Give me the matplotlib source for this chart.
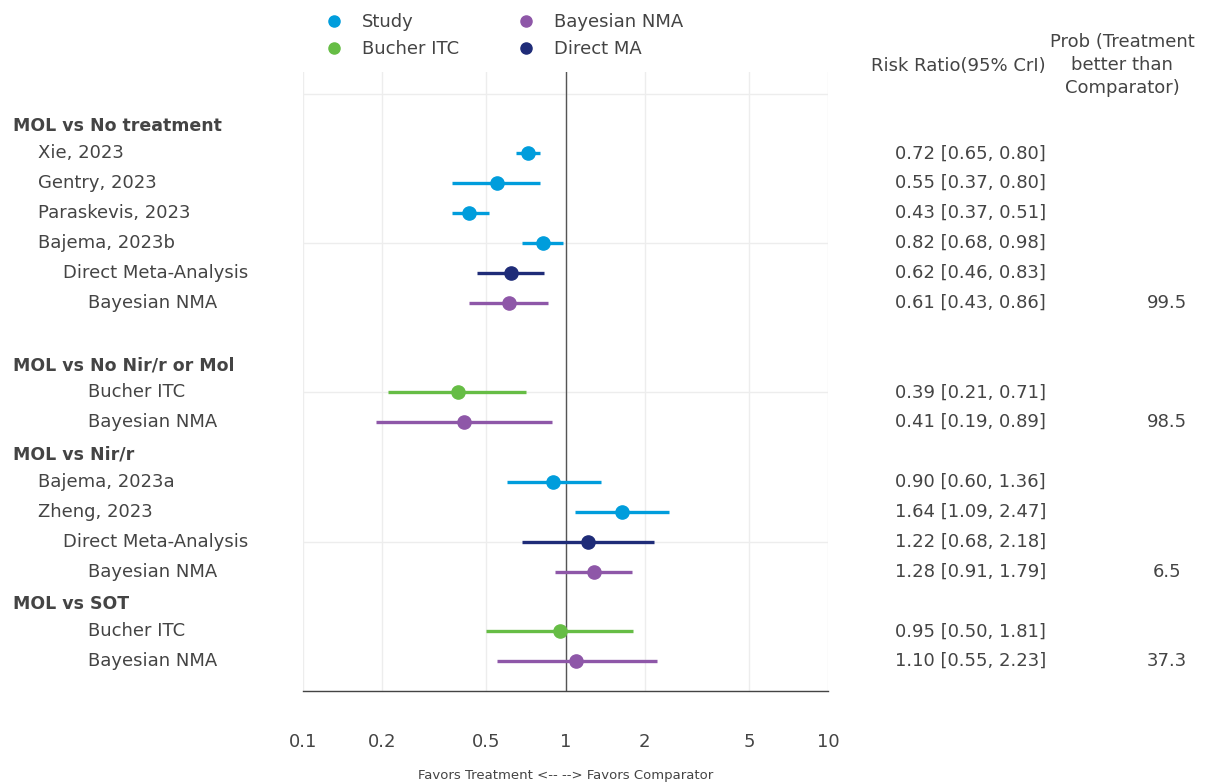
import matplotlib.pyplot as plt
import matplotlib.transforms as mtransforms
from matplotlib.lines import Line2D

plt.rcParams['font.family'] = ['DejaVu Sans']

# rows from top to bottom; kind: header / blank / Study / Bucher ITC / Direct MA / Bayesian NMA
labels = ["MOL vs No treatment", "Xie, 2023", "Gentry, 2023", "Paraskevis, 2023", "Bajema, 2023b",
          "Direct Meta-Analysis", "Bayesian NMA", "",
          "MOL vs No Nir/r or Mol", "Bucher ITC", "Bayesian NMA",
          "MOL vs Nir/r", "Bajema, 2023a", "Zheng, 2023", "Direct Meta-Analysis", "Bayesian NMA",
          "MOL vs SOT", "Bucher ITC", "Bayesian NMA"]
kinds = ["header", "Study", "Study", "Study", "Study", "Direct MA", "Bayesian NMA", "blank",
         "header", "Bucher ITC", "Bayesian NMA",
         "header", "Study", "Study", "Direct MA", "Bayesian NMA",
         "header", "Bucher ITC", "Bayesian NMA"]
rr = [None, 0.72, 0.55, 0.43, 0.82, 0.62, 0.61, None,
      None, 0.39, 0.41,
      None, 0.90, 1.64, 1.22, 1.28,
      None, 0.95, 1.10]
lo = [None, 0.65, 0.37, 0.37, 0.68, 0.46, 0.43, None,
      None, 0.21, 0.19,
      None, 0.60, 1.09, 0.68, 0.91,
      None, 0.50, 0.55]
hi = [None, 0.80, 0.80, 0.51, 0.98, 0.83, 0.86, None,
      None, 0.71, 0.89,
      None, 1.36, 2.47, 2.18, 1.79,
      None, 1.81, 2.23]
prob = ["", "", "", "", "", "", "99.5", "",
        "", "", "98.5",
        "", "", "", "", "6.5",
        "", "", "37.3"]

colors = {"Study": "#009ddc", "Bayesian NMA": "#8e57a8",
          "Bucher ITC": "#66bd45", "Direct MA": "#1f2c78"}
indent = {"header": 13, "Study": 38, "Direct MA": 63, "Bayesian NMA": 88, "Bucher ITC": 88}

txt = "#444444"
fs = 13

fig = plt.figure(figsize=(12.05, 7.83), dpi=100)
W, H = 1205, 783
ax = fig.add_axes([303 / W, 1 - 691 / H, 525 / W, (691 - 72) / H])
ax.set_xscale("log")
ax.set_xlim(0.1, 10)
ax.set_ylim(0, 20.72)

n = len(labels)
ys = [n - i for i in range(n)]

for y, k, v, a, b in zip(ys, kinds, rr, lo, hi):
    if v is None:
        continue
    c = colors[k]
    ax.plot([a, b], [y, y], color=c, lw=2.4, solid_capstyle="butt", zorder=3)
    ax.plot([v], [y], "o", color=c, ms=9.5, zorder=4)

ax.axvline(1, color="#555555", lw=1, zorder=2)
ax.set_xticks([0.1, 0.2, 0.5, 1, 2, 5, 10])
ax.set_xticklabels(["0.1", "0.2", "0.5", "1", "2", "5", "10"])
ax.minorticks_off()
ax.set_yticks([0, 5, 10, 15, 20])
ax.set_yticklabels([])
ax.grid(True, color="#ededed", lw=1, zorder=0)
ax.set_axisbelow(True)
ax.tick_params(length=0, labelsize=fs, labelcolor=txt, pad=30)
for s in ["top", "right", "left"]:
    ax.spines[s].set_visible(False)
ax.spines["bottom"].set_color("#444444")
ax.spines["bottom"].set_linewidth(1)
ax.set_xlabel("Favors Treatment <-- --> Favors Comparator", fontsize=9.5, color=txt, labelpad=13)

trans = mtransforms.blended_transform_factory(fig.transFigure, ax.transData)
for y, lab, k, v, a, b, p in zip(ys, labels, kinds, rr, lo, hi, prob):
    if k == "blank":
        continue
    if k == "header":
        # group headings sit a little below their row in the original
        ax.text(indent[k] / W, y - 0.1, lab, transform=trans, ha="left", va="center",
                fontsize=12.5, color=txt, fontweight="bold", clip_on=False)
    else:
        ax.text(indent[k] / W, y, lab, transform=trans, ha="left", va="center",
                fontsize=fs, color=txt, clip_on=False)
    if v is not None:
        ax.text(1046 / W, y, f"{v:.2f} [{a:.2f}, {b:.2f}]", transform=trans,
                ha="right", va="center", fontsize=fs, color=txt)
    if p:
        ax.text(1167 / W, y, p, transform=trans, ha="center", va="center",
                fontsize=fs, color=txt)

fig.text(1046 / W, 1 - 66 / H, "Risk Ratio(95% CrI)", ha="right", va="center",
         fontsize=fs, color=txt)
fig.text(1122 / W, 1 - 65 / H, "Prob (Treatment\nbetter than\nComparator)", ha="center",
         va="center", multialignment="center", fontsize=fs, color=txt, linespacing=1.35)

leg_order = ["Study", "Bucher ITC", "Bayesian NMA", "Direct MA"]
handles = [Line2D([], [], ls="none", marker="o", ms=8, color=colors[k]) for k in leg_order]
fig.legend(handles, leg_order, loc="upper left", bbox_to_anchor=(325 / W, 1 - 13 / H),
           ncol=2, frameon=False, fontsize=fs, labelcolor=txt, borderpad=0,
           borderaxespad=0, handlelength=1.0, handletextpad=1.05, columnspacing=3.2,
           labelspacing=0.5)

fig.savefig("out.png", dpi=100)
